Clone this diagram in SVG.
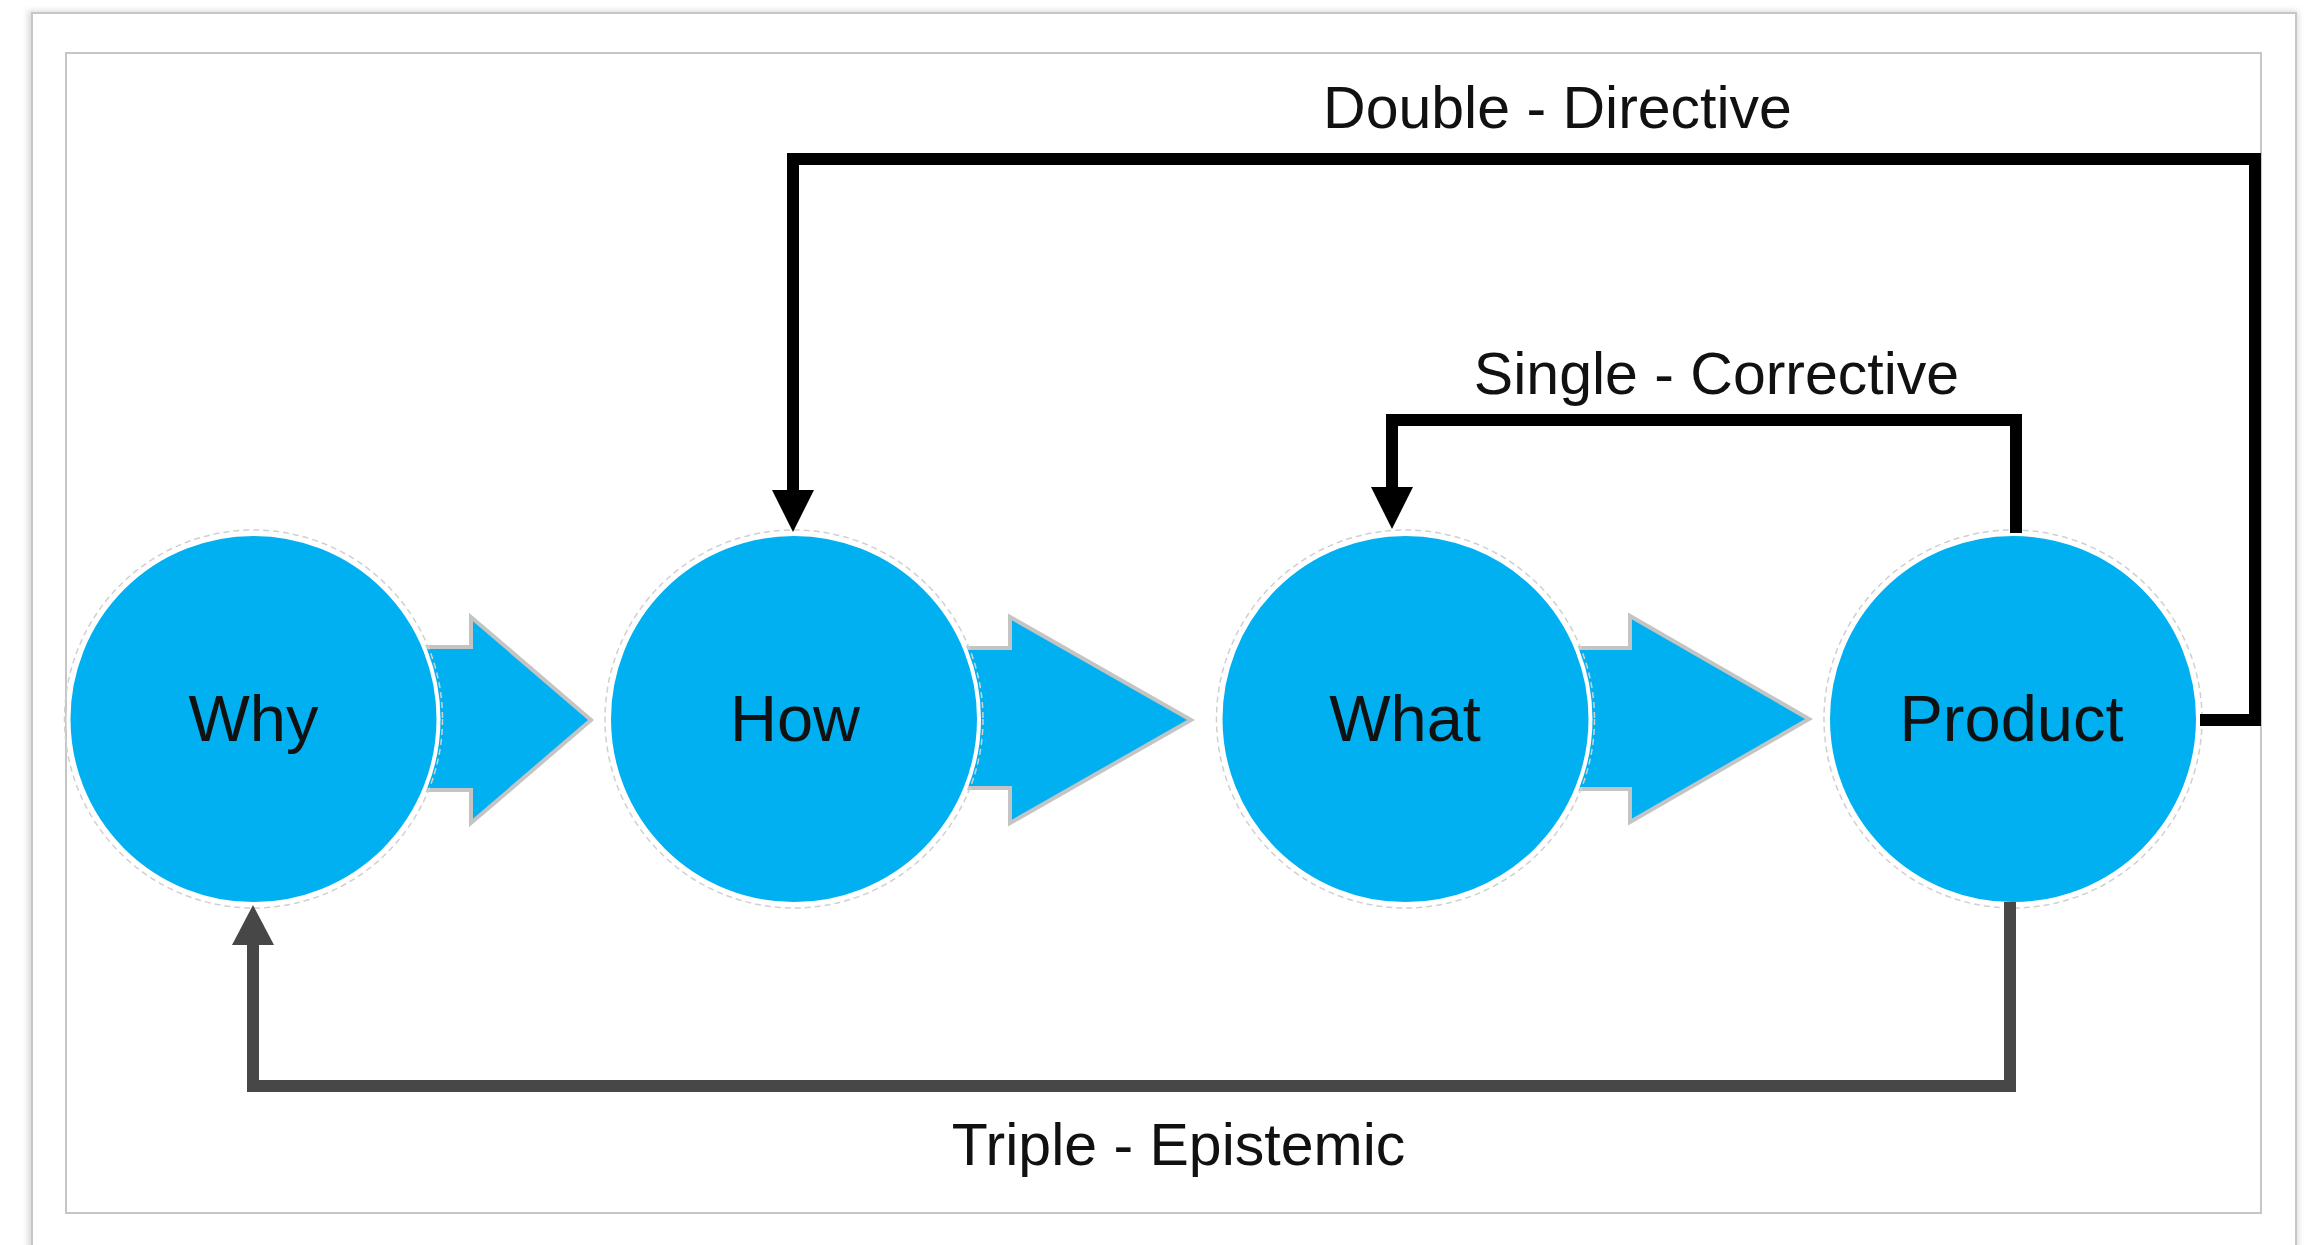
<svg xmlns="http://www.w3.org/2000/svg" width="2304" height="1245" viewBox="0 0 2304 1245">
  <style>
    .frame { fill: #ffffff; stroke: #c6c6c6; stroke-width: 2; }
    .ring { fill: none; stroke: #d0d0d0; stroke-width: 1.5; stroke-dasharray: 6 4; }
    .disc { fill: #00B0F0; stroke: #ffffff; stroke-width: 4; }
    .blockarrow { fill: #00B0F0; stroke: #c4c4c4; stroke-width: 4; stroke-linejoin: miter; }
    .node-label { font-family: "Liberation Sans", Arial, sans-serif; font-size: 65px; fill: #111111; text-anchor: middle; }
    .edge-label { font-family: "Liberation Sans", Arial, sans-serif; font-size: 59px; fill: #111111; text-anchor: middle; }
    .conn-black { fill: none; stroke: #000000; stroke-width: 12; stroke-linejoin: miter; stroke-linecap: butt; }
    .conn-gray { fill: none; stroke: #474747; stroke-width: 12; stroke-linejoin: miter; stroke-linecap: butt; }
  </style>
  <defs>
    <filter id="soft" x="-5%" y="-5%" width="110%" height="110%">
      <feGaussianBlur stdDeviation="3"/>
    </filter>
    <marker id="headBlack" markerUnits="userSpaceOnUse" viewBox="0 -21 42 42" refX="0" refY="0" markerWidth="42" markerHeight="42" orient="auto">
      <path d="M0,-21 L42,0 L0,21 Z" fill="#000000"/>
    </marker>
    <marker id="headGray" markerUnits="userSpaceOnUse" viewBox="0 -21 40 42" refX="0" refY="0" markerWidth="40" markerHeight="42" orient="auto">
      <path d="M0,-21 L40,0 L0,21 Z" fill="#474747"/>
    </marker>
  </defs>

  <rect x="0" y="0" width="2304" height="1245" fill="#ffffff"/>

  <g id="frames">
    <rect x="28" y="11" width="2270" height="1260" fill="#d8d8d8" filter="url(#soft)"/>
    <rect class="frame" x="32" y="13" width="2264" height="1260"/>
    <rect class="frame" x="66" y="53" width="2195" height="1160"/>
  </g>

  <g id="flow-arrows">
    <polygon id="arrow-why-how" class="blockarrow" points="410,647 471,647 471,617 591,720 471,823 471,790 410,790"/>
    <polygon id="arrow-how-what" class="blockarrow" points="950,648 1010,648 1010,617 1191,720 1010,823 1010,788 950,788"/>
    <polygon id="arrow-what-product" class="blockarrow" points="1570,648 1630,648 1630,616 1809,719 1630,822 1630,789 1570,789"/>
  </g>

  <g id="node-why">
    <circle class="ring" cx="253.5" cy="719" r="189"/>
    <circle class="disc" cx="253.5" cy="719" r="185"/>
    <text class="node-label" x="253.5" y="741">Why</text>
  </g>
  <g id="node-how">
    <circle class="ring" cx="794" cy="719" r="189"/>
    <circle class="disc" cx="794" cy="719" r="185"/>
    <text class="node-label" x="795" y="741">How</text>
  </g>
  <g id="node-what">
    <circle class="ring" cx="1405.5" cy="719" r="189"/>
    <circle class="disc" cx="1405.5" cy="719" r="185"/>
    <text class="node-label" x="1405" y="741">What</text>
  </g>
  <g id="node-product">
    <circle class="ring" cx="2013" cy="719" r="189"/>
    <circle class="disc" cx="2013" cy="719" r="185"/>
    <text class="node-label" x="2011.5" y="741">Product</text>
  </g>

  <g id="connectors">
    <path id="double-directive" class="conn-black" d="M2200,720 H2255 V159 H793 V490" marker-end="url(#headBlack)"/>
    <path id="single-corrective" class="conn-black" d="M2016,533 V420 H1392 V487" marker-end="url(#headBlack)"/>
    <path id="triple-epistemic" class="conn-gray" d="M2010,902 V1086 H253 V945" marker-end="url(#headGray)"/>
  </g>

  <g id="labels">
    <text class="edge-label" x="1557.5" y="128">Double - Directive</text>
    <text class="edge-label" x="1716.5" y="394">Single - Corrective</text>
    <text class="edge-label" x="1178.5" y="1165">Triple - Epistemic</text>
  </g>
</svg>
